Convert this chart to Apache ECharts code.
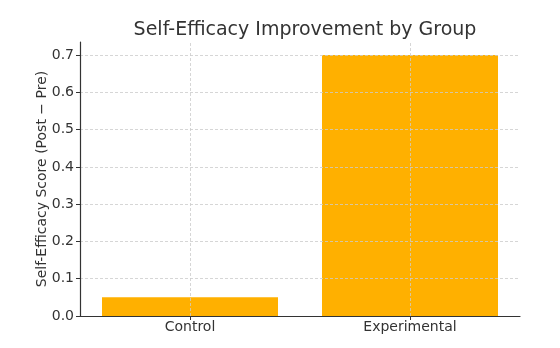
<!DOCTYPE html>
<html>
<head>
<meta charset="utf-8">
<script src="https://cdn.jsdelivr.net/npm/echarts@6/dist/echarts.min.js"></script>
<style>html,body{margin:0;padding:0;background:#fff;}#c{width:560px;height:348px;}</style>
</head>
<body>
<div id="c"></div>
<script>
const categories = ['Control', 'Experimental'];
const values = [0.05, 0.70];
const yTicks = [0, 0.1, 0.2, 0.3, 0.4, 0.5, 0.6, 0.7];
const titleText = 'Self-Efficacy Improvement by Group';
const yName = 'Self-Efficacy Score (Post \u2212 Pre)';

const font = 'DejaVu Sans';
const chart = echarts.init(document.getElementById('c'), null, {renderer: 'canvas'});
chart.setOption({
  animation: false,
  backgroundColor: '#ffffff',
  title: {
    text: titleText,
    left: 300, textAlign: 'center', top: 16,
    textStyle: {fontFamily: font, fontSize: 19, fontWeight: 'normal', color: '#333333'}
  },
  grid: {left: 80, right: 40, top: 42, bottom: 32},
  xAxis: {
    type: 'category',
    data: categories,
    boundaryGap: true,
    axisLine: {lineStyle: {color: '#333333', width: 1.2}},
    axisTick: {show: true, alignWithLabel: true, length: 4, lineStyle: {color: '#333333'}},
    axisLabel: {fontFamily: font, fontSize: 14, color: '#333333', margin: 4},
    splitLine: {show: false}
  },
  yAxis: {
    type: 'value',
    min: 0, max: 0.735, interval: 0.1,
    name: yName,
    nameLocation: 'middle',
    nameGap: 31,
    nameMoveOverlap: false,
    nameTextStyle: {fontFamily: font, fontSize: 14, color: '#333333'},
    axisLine: {show: true, lineStyle: {color: '#333333', width: 1.2}},
    axisTick: {show: true, length: 4, lineStyle: {color: '#333333'}, customValues: yTicks},
    axisLabel: {fontFamily: font, fontSize: 14, color: '#333333', margin: 6,
      customValues: yTicks, formatter: v => v.toFixed(1)},
    splitLine: {show: true, lineStyle: {color: '#cccccc', type: [3, 2], width: 0.8}}
  },
  series: [{
    type: 'bar',
    data: values,
    barWidth: '80%',
    z: -1,
    itemStyle: {color: '#FFB000'},
    markLine: {
      silent: true,
      symbol: ['none', 'none'],
      label: {show: false},
      lineStyle: {color: '#cccccc', type: [3, 2], width: 0.8},
      data: categories.map(c => ({xAxis: c}))
    }
  }]
});
</script>
</body>
</html>
